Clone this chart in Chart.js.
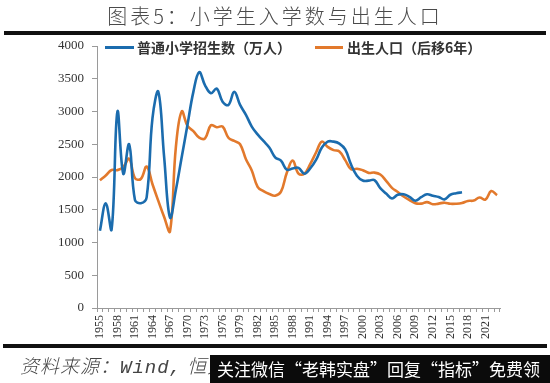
<!DOCTYPE html>
<html>
<head>
<meta charset="utf-8">
<script src="https://cdn.jsdelivr.net/npm/chart.js@4/dist/chart.umd.min.js"></script>
<style>
  html, body { margin:0; padding:0; background:#fff; }
  #wrap { position:relative; width:550px; height:383px; overflow:hidden; background:#fff; }
  #c { position:absolute; left:0; top:0; }
  .ov { position:absolute; white-space:nowrap; }
  #title { left:0; width:550px; top:1px; text-align:center; font-family:"Noto Sans CJK SC"; font-weight:300; font-size:20px; letter-spacing:3px; color:#4a4a4a; }
  #topbar { left:4px; width:542px; top:31px; height:4px; background:#111; }
  #botbar { left:3px; width:544px; top:344px; height:4px; background:#111; }
  .lg { top:38px; font-family:"Noto Sans CJK SC"; font-weight:bold; font-size:14px; color:#333; line-height:18px; }
  .sw { position:absolute; height:3px; top:46px; }
  #src { left:20px; top:351px; font-family:"Noto Sans CJK SC"; font-style:italic; font-weight:300; font-size:19px; letter-spacing:1px; color:#444; }
  #src .w { font-family:"Liberation Mono"; font-style:italic; font-size:19px; }
  #wm { left:210px; top:355px; width:340px; height:28px; background:#0b0b0b; color:#fff; font-family:"Noto Sans CJK SC"; font-size:17px; line-height:28px; padding-left:7px; box-sizing:border-box; }
</style>
</head>
<body>
<div id="wrap">
  <canvas id="c" width="550" height="383"></canvas>
  <div class="ov" id="title">图表5：小学生入学数与出生人口</div>
  <div class="ov" id="topbar"></div>
  <div class="sw" style="left:105px;width:29px;background:#1b6cae"></div>
  <div class="ov lg" style="left:137px">普通小学招生数（万人）</div>
  <div class="sw" style="left:315px;width:28px;background:#e2792c"></div>
  <div class="ov lg" style="left:347px">出生人口（后移6年）</div>
  <div class="ov" id="botbar"></div>
  <div class="ov" id="src">资料来源：<span class="w">Wind,</span> 恒大研究院</div>
  <div class="ov" id="wm">关注微信“老韩实盘”回复“指标”免费领</div>
</div>
<script>
const years = [
  "1955","1956","1957","1958","1959","1960","1961","1962","1963","1964",
  "1965","1966","1967","1968","1969","1970","1971","1972","1973","1974",
  "1975","1976","1977","1978","1979","1980","1981","1982","1983","1984",
  "1985","1986","1987","1988","1989","1990","1991","1992","1993","1994",
  "1995","1996","1997","1998","1999","2000","2001","2002","2003","2004",
  "2005","2006","2007","2008","2009","2010","2011","2012","2013","2014",
  "2015","2016","2017","2018","2019","2020","2021","2022","2023"
];
const enrollment = [
  1180,1600,1200,3000,2050,2500,1650,1600,1690,2900,
  3300,2300,1380,1800,2300,2800,3300,3600,3400,3280,
  3350,3150,3100,3300,3100,2950,2770,2650,2550,2450,
  2300,2250,2110,2130,2140,2050,2130,2260,2450,2540,
  2540,2510,2420,2190,2020,1946,1944,1953,1829,1747,
  1672,1729,1736,1696,1638,1692,1737,1714,1695,1658,
  1729,1752,1766,null,null,null,null,null,null
];
const birthsShifted = [
  1950,2023,2107,2105,2151,2280,1984,1970,2160,1889,
  1635,1389,1170,2451,3000,2780,2700,2600,2590,2790,
  2760,2770,2600,2550,2500,2270,2100,1850,1783,1740,
  1715,1776,2064,2250,2052,2050,2196,2374,2540,2460,
  2410,2391,2258,2119,2126,2104,2063,2067,2038,1942,
  1834,1771,1702,1647,1599,1593,1617,1584,1594,1608,
  1591,1592,1604,1635,1640,1687,1655,1786,1723
];
const yTicks = [0,500,1000,1500,2000,2500,3000,3500,4000];
const seriesNames = ["普通小学招生数（万人）","出生人口（后移6年）"];

const BLUE = "#1b6cae", ORANGE = "#e2792c", AXIS = "#9a9a9a";

new Chart(document.getElementById("c"), {
  type: "line",
  data: {
    labels: years,
    datasets: [
      { label: seriesNames[0], data: enrollment, borderColor: BLUE, borderWidth: 2.6,
        pointRadius: 0, tension: 0.4, fill: false },
      { label: seriesNames[1], data: birthsShifted, borderColor: ORANGE, borderWidth: 2.6,
        pointRadius: 0, tension: 0.4, fill: false }
    ]
  },
  options: {
    responsive: false,
    animation: false,
    layout: { padding: { left: 0, right: 50, top: 46, bottom: 35 } },
    plugins: { legend: { display: false }, tooltip: { enabled: false } },
    scales: {
      x: {
        offset: true,
        grid: { offset: true, drawOnChartArea: false, drawTicks: true, tickLength: 4, color: AXIS },
        border: { display: true, color: AXIS, width: 1 },
        ticks: {
          autoSkip: false, maxRotation: 90, minRotation: 90, padding: 3,
          font: { family: "Liberation Serif", size: 12 }, color: "#333",
          callback: function (v, i) { return i % 3 === 0 ? this.getLabelForValue(v) : ""; }
        },
        afterFit: function (s) { s.height = 40; }
      },
      y: {
        min: yTicks[0], max: yTicks[yTicks.length - 1],
        afterBuildTicks: function (s) { s.ticks = yTicks.map(v => ({ value: v })); },
        grid: { drawOnChartArea: false, drawTicks: true, tickLength: 5, color: AXIS },
        border: { display: true, color: AXIS, width: 1 },
        ticks: { padding: 8, font: { family: "Liberation Serif", size: 13 }, color: "#333",
          callback: function (v) { return String(v); } },
        afterFit: function (s) { s.width = 97; }
      }
    }
  }
});
</script>
</body>
</html>
